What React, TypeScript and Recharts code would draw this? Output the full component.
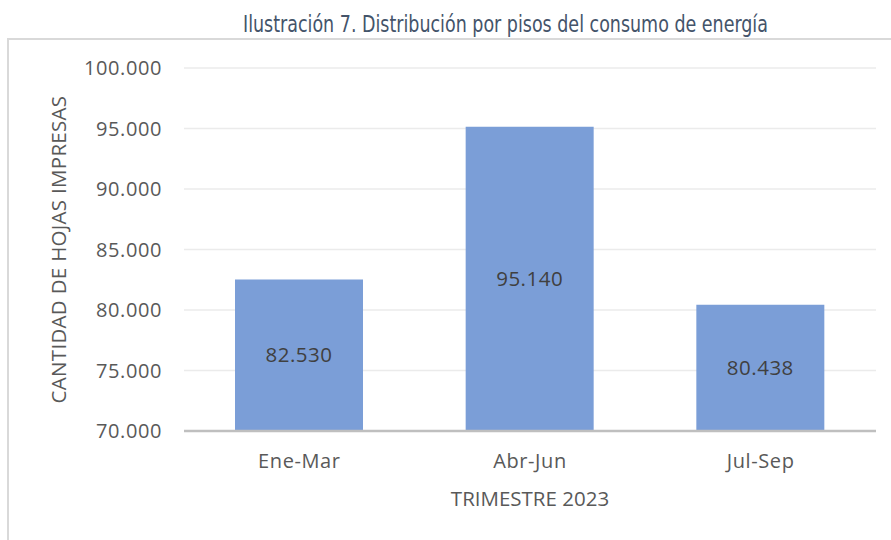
import { BarChart, Bar, XAxis, YAxis, CartesianGrid, LabelList } from 'recharts';

const trimestres = ['Ene-Mar', 'Abr-Jun', 'Jul-Sep'];
const hojasImpresas = [82530, 95140, 80438];
const yTicks = [70000, 75000, 80000, 85000, 90000, 95000, 100000];

const data = trimestres.map((t, i) => ({ trimestre: t, hojas: hojasImpresas[i] }));

const fmt = (v: number) => String(Math.round(v)).replace(/\B(?=(\d{3})+(?!\d))/g, '.');

const FONT = '"Open Sans", "Noto Sans", sans-serif';
const GRAY = '#595959';

export default function App() {
  return (
    <div style={{ position: 'absolute', left: 0, top: 0, width: 891, height: 540, background: '#fff', overflow: 'hidden' }}>
      <div
        style={{
          position: 'absolute',
          left: 243,
          top: 10,
          fontFamily: '"Liberation Sans Narrow", "Arial Narrow", "DejaVu Sans Condensed", sans-serif',
          fontSize: 23,
          lineHeight: '28px',
          color: '#44546a',
          whiteSpace: 'nowrap',
          transform: 'scaleX(0.845)',
          transformOrigin: 'left center',
        }}
      >
        Ilustración 7. Distribución por pisos del consumo de energía
      </div>
      {/* chart frame */}
      <div
        style={{
          position: 'absolute',
          left: 7,
          top: 38,
          width: 900,
          height: 520,
          border: '2px solid #d9d9d9',
          boxSizing: 'border-box',
        }}
      />
      <div style={{ position: 'absolute', left: 0, top: 0 }}>
        <BarChart width={891} height={540} data={data} margin={{ top: 68, right: 15, bottom: 79, left: 0 }}>
          <CartesianGrid vertical={false} stroke="#ebebeb" strokeWidth={1.5} />
          <XAxis
            dataKey="trimestre"
            height={30}
            axisLine={{ stroke: '#bfbfbf', strokeWidth: 2.5 }}
            tickLine={false}
            tickSize={0}
            tickMargin={23}
            tick={{ fill: GRAY, fontSize: 20, fontFamily: FONT, letterSpacing: 0.6 }}
            label={{
              content: ({ viewBox }: any) => (
                <text
                  x={viewBox.x + viewBox.width / 2}
                  y={506}
                  textAnchor="middle"
                  fill={GRAY}
                  fontSize={20.5}
                  fontFamily={FONT}
                >
                  TRIMESTRE 2023
                </text>
              ),
            }}
          />
          <YAxis
            width={184}
            domain={[70000, 100000]}
            ticks={yTicks}
            tickFormatter={fmt}
            axisLine={false}
            tickLine={false}
            tickSize={0}
            tickMargin={22}
            tick={{ fill: GRAY, fontSize: 20, fontFamily: FONT, letterSpacing: 0.6 }}
            label={{
              content: ({ viewBox }: any) => {
                const cx = viewBox.x + 58;
                const cy = viewBox.y + viewBox.height / 2;
                return (
                  <text
                    x={cx}
                    y={cy}
                    transform={`rotate(-90 ${cx} ${cy})`}
                    textAnchor="middle"
                    dominantBaseline="central"
                    fill={GRAY}
                    fontSize={20.5}
                    fontFamily={FONT}
                    letterSpacing={0.3}
                  >
                    CANTIDAD DE HOJAS IMPRESAS
                  </text>
                );
              },
            }}
          />
          <Bar dataKey="hojas" fill="#7b9ed7" barSize={128} isAnimationActive={false}>
            <LabelList
              dataKey="hojas"
              position="center"
              formatter={(v: any) => fmt(Number(v))}
              fill="#404040"
              fontSize={20.5}
              fontFamily={FONT}
              letterSpacing={0.5}
            />
          </Bar>
        </BarChart>
      </div>
    </div>
  );
}
